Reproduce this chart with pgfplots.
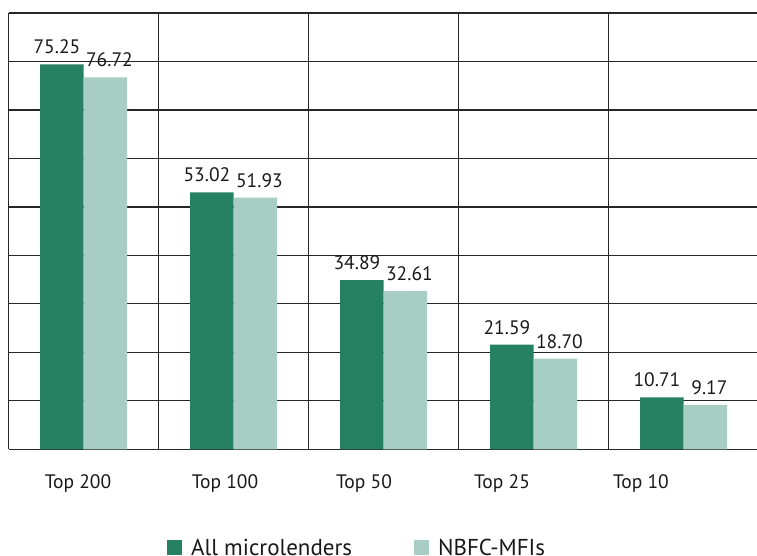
\documentclass[border=0pt]{standalone}
\usepackage{pgfplots}
\pgfplotsset{compat=1.18}
\usepackage{fontspec}
\setmainfont{PT Sans}
\definecolor{cgreen}{HTML}{268062}
\definecolor{clight}{HTML}{A8CDC2}
\definecolor{cgrid}{HTML}{262626}
\begin{document}
\begin{tikzpicture}
\begin{axis}[
  scale only axis,
  width=750pt, height=436.3pt,
  xmin=-0.5, xmax=4.5, ymin=0, ymax=90,
  axis line style={draw=none},
  ybar=0pt, bar width=43.5pt,
  ytick={0,10,...,90}, yticklabels={},
  ymajorgrids,
  xtick={-0.038,0.942,1.869,2.789,3.715},
  xticklabels={Top 200,Top 100,Top 50,Top 25,Top 10},
  minor xtick={-0.5,0.5,1.5,2.5,3.5,4.5},
  xminorgrids,
  major tick length=0pt, minor tick length=0pt,
  tick style={draw=none},
  grid style={cgrid, line width=1.2pt},
  major grid style={cgrid, line width=1.2pt},
  minor grid style={cgrid, line width=1.2pt},
  xticklabel style={font=\fontsize{19.5}{22}\selectfont, text=black!90, anchor=base, yshift=-38.7pt},
  point meta=explicit symbolic,
  nodes near coords,
  every node near coord/.append style={font=\fontsize{19.5}{22}\selectfont, text=black!90, anchor=base, yshift=10.5pt},
  legend columns=2,
  legend style={draw=none, fill=none, inner sep=0pt, at={(158.3/750,-87.7/436.3)}, anchor=north west,
    font=\fontsize{23}{26}\selectfont, text=black!90,
    /tikz/every odd column/.append style={column sep=7pt},
    /tikz/every even column/.append style={column sep=60pt}},
  legend image code/.code={\fill[#1] (0pt,-7pt) rectangle (15pt,8pt);},
]
\addplot[fill=cgreen, draw=none, every node near coord/.append style={xshift=-5pt}] coordinates {
  (0,79.4) [75.25]
  (1,53.02) [53.02]
  (2,34.89) [34.89]
  (3,21.59) [21.59]
  (4,10.71) [10.71]
};
\addplot[fill=clight, draw=none, every node near coord/.append style={xshift=4pt}] coordinates {
  (0,76.72) [76.72]
  (1,51.93) [51.93]
  (2,32.61) [32.61]
  (3,18.70) [18.70]
  (4,9.17) [9.17]
};
\legend{All microlenders, NBFC-MFIs}
\coordinate (O) at (rel axis cs:0,0);
\end{axis}
\pgfresetboundingbox
\path ([shift={(-8.7pt,-105.7pt)}]O) rectangle ([shift={(748.3pt,449.3pt)}]O);
\end{tikzpicture}
\end{document}
